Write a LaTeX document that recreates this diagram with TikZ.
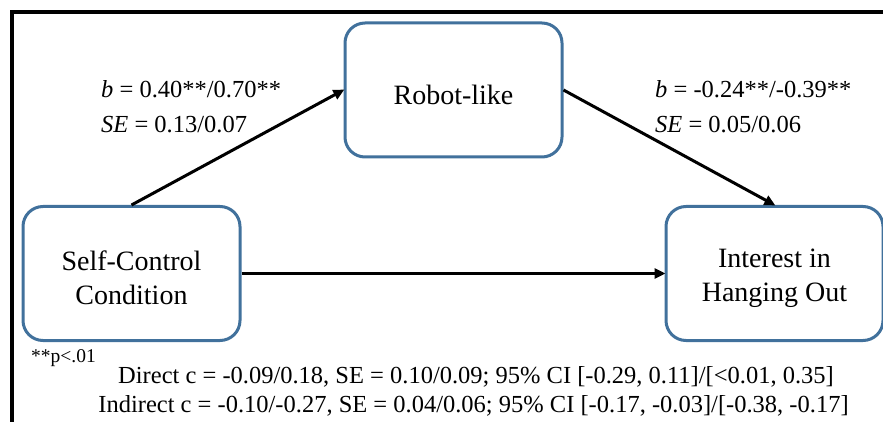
\documentclass[tikz,border=0pt]{standalone}
\usepackage{fontspec}
\setmainfont{Liberation Serif}
\usetikzlibrary{arrows.meta}
\definecolor{boxblue}{RGB}{65,113,156}
\tikzset{
  varbox/.style={draw=boxblue, line width=3pt, rounded corners=20pt, fill=white,
    minimum width=217pt, minimum height=134pt, inner sep=0pt},
  boxtext/.style={align=center, inner sep=0pt, yshift=-4.5pt,
    font=\fontsize{28}{34}\selectfont},
  conn/.style={draw=black, line width=3pt, -{Triangle[length=11pt,width=10pt]}, shorten >=-1pt},
  coef/.style={inner sep=0pt, font=\fontsize{24.5}{29}\selectfont},
  note/.style={inner sep=0pt, font=\fontsize{19.5}{23}\selectfont},
  frame/.style={line width=4pt, line cap=rect}
}
\begin{document}
\begin{tikzpicture}[x=1pt,y=-1pt]
\useasboundingbox (0,0) rectangle (883,422);
% frame
\coordinate (fa) at (12,440);
\coordinate (fb) at (12,12);
\coordinate (fc) at (890,12);
\draw[frame] (fa) -- (fb) -- (fc);
% boxes
\node[varbox] (robot) at (453.5,90) {};
\node[boxtext] (robott) at (robot.center) {Robot-like};
\node[varbox] (self) at (131.5,273.5) {};
\node[boxtext] (selft) at (self.center) {Self-Control\\Condition};
\node[varbox] (interest) at (774.5,273.5) {};
\node[boxtext] (interestt) at (interest.center) {Interest in\\Hanging Out};
% connectors
\draw[conn] (self.north) -- (robot.west);
\draw[conn] (robot.east) -- (interest.north);
\draw[conn] (self.east) -- (interest.west);
% coefficient labels
\node[coef, anchor=base west] (la1) at (101,98) {\textit{b} = 0.40**/0.70**};
\node[coef, anchor=base west] (la2) at (101,133) {\textit{SE} = 0.13/0.07};
\node[coef, anchor=base west] (lb1) at (655,98) {\textit{b} = -0.24**/-0.39**};
\node[coef, anchor=base west] (lb2) at (655,133) {\textit{SE} = 0.05/0.06};
% notes
\node[note, anchor=base west] (sig) at (31,362) {**p<.01};
\node[coef, anchor=base] (direct) at (476,383) {Direct c = -0.09/0.18, SE = 0.10/0.09; 95\% CI [-0.29, 0.11]/[<0.01, 0.35]};
\node[coef, anchor=base] (indirect) at (473.5,412) {Indirect c = -0.10/-0.27, SE = 0.04/0.06; 95\% CI [-0.17, -0.03]/[-0.38, -0.17]};
\end{tikzpicture}
\end{document}
